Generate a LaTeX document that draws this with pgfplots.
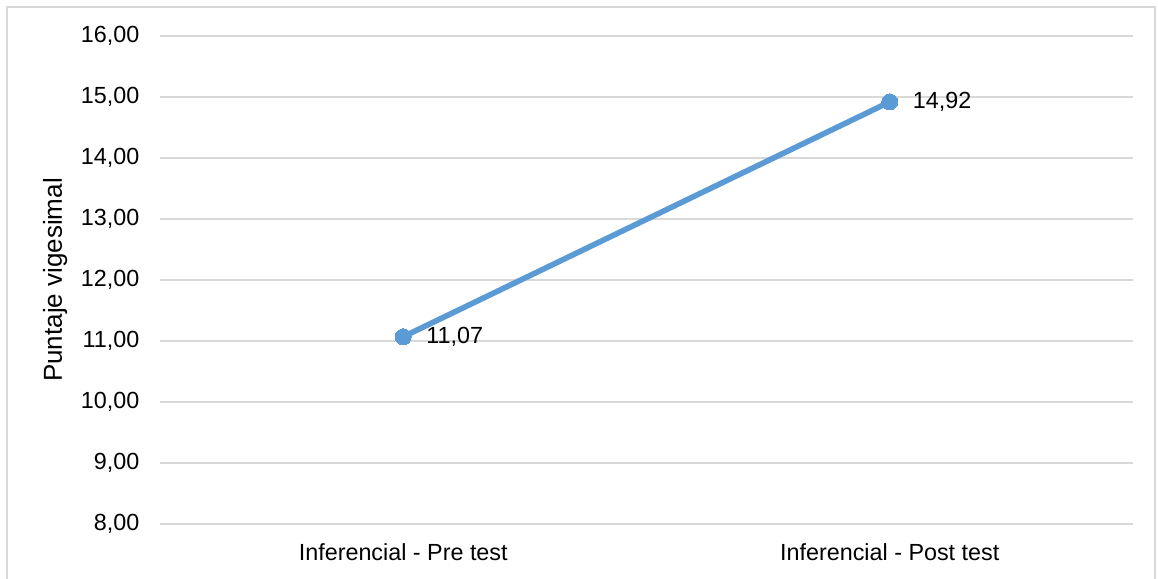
\documentclass[border=0pt]{standalone}
\usepackage{fontspec}
\setmainfont{Liberation Sans}
\usepackage{pgfplots}
\pgfplotsset{compat=1.18}
\definecolor{lineblue}{HTML}{5B9BD5}
\definecolor{gridgray}{HTML}{D9D9D9}
\begin{document}
\begin{tikzpicture}[x=1pt,y=1pt]
\path[use as bounding box] (-120pt,-41.25pt) rectangle (748.5pt,393pt);
\draw[gridgray, line width=1.2pt] (-114.75pt,-80pt) -- (-114.75pt,387.75pt) -- (746.25pt,387.75pt) -- (746.25pt,-80pt);
\begin{axis}[
  at={(0pt,0pt)}, anchor=south west,
  scale only axis,
  width=729.75pt, height=366pt,
  xmin=-0.5, xmax=1.5,
  ymin=8, ymax=16,
  ytick={8,9,...,16},
  xtick={0,1},
  xticklabels={Inferencial - Pre test, Inferencial - Post test},
  axis line style={draw=none},
  major tick length=0pt,
  ymajorgrids,
  grid style={gridgray, line width=1.1pt},
  tick label style={font=\fontsize{17.5}{20}\selectfont},
  yticklabel style={xshift=-12pt},
  xticklabel style={yshift=-11pt},
  /pgf/number format/.cd, use comma, fixed, fixed zerofill, precision=2, assume math mode=true,
  /pgfplots/.cd,
  ylabel={Puntaje vigesimal},
  ylabel style={font=\fontsize{19.5}{22}\selectfont, at={(axis description cs:0,0.5)}, anchor=south, xshift=0pt, yshift=66pt},
  clip=false,
]
\addplot[lineblue, line width=4.2pt, mark=*, mark size=6pt, mark options={fill=lineblue, draw=lineblue, line width=0pt},
  nodes near coords, point meta=explicit symbolic,
  every node near coord/.append style={font=\fontsize{17.5}{20}\selectfont, color=black, anchor=west, xshift=14pt, yshift=0pt}]
  coordinates {(0,11.07) [11,07] (1,14.92) [14,92]};
\end{axis}
\end{tikzpicture}
\end{document}
